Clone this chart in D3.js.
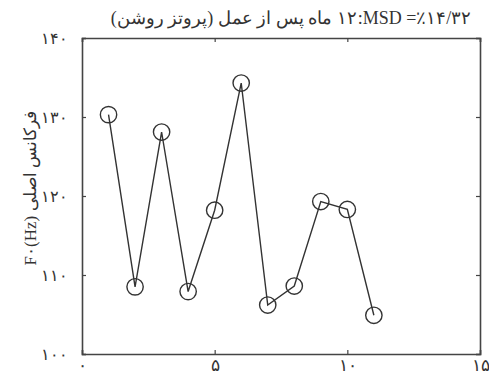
<!DOCTYPE html>
<html lang="fa">
<head>
<meta charset="utf-8">
<style>
  body { margin: 0; background: #fff; }
  text { font-family: "Liberation Serif", "DejaVu Serif", serif; fill: #333; }
</style>
</head>
<body>
<svg width="489" height="383"></svg>
<script src="https://cdn.jsdelivr.net/npm/d3@7"></script>
<script>
// values
const months = [1, 2, 3, 4, 5, 6, 7, 8, 9, 10, 11];
const f0 = [130.3, 108.5, 128.1, 107.9, 118.2, 134.3, 106.2, 108.6, 119.3, 118.3, 104.9];
const xTicks = [0, 5, 10, 15];
const yTicks = [100, 110, 120, 130, 140];
// title and y label are split in a persian part and a latin part, so the bidi order can't flip
const titleFa = '۱۲ ماه پس از عمل (پروتز روشن)';
const titleLatin = ':MSD =٪۱۴/۳۲';
const yLabelLatin = 'F۰(Hz)';
const yLabelFa = 'فرکانس اصلی';

const faDigits = '۰۱۲۳۴۵۶۷۸۹';
const fa = n => String(n).replace(/\d/g, d => faDigits[d]);

const svg = d3.select('svg');
const margin = { top: 38, right: 9, bottom: 29, left: 82 };
const width = 489 - margin.left - margin.right,
      height = 383 - margin.top - margin.bottom;

const x = d3.scaleLinear().domain([0, 15]).range([0, width]);
const y = d3.scaleLinear().domain([100, 140]).range([height, 0]);

const g = svg.append('g').attr('transform', `translate(${margin.left},${margin.top})`);

// box with inward ticks on all sides, like matlab
const tickLen = 4;
g.append('g').attr('transform', `translate(0,${height})`)
  .call(d3.axisBottom(x).tickValues(xTicks).tickSize(-tickLen).tickPadding(5).tickFormat(fa))
  .call(a => a.selectAll('text').attr('font-size', 17));
g.append('g')
  .call(d3.axisTop(x).tickValues(xTicks).tickSize(-tickLen).tickFormat(''));
g.append('g')
  .call(d3.axisLeft(y).tickValues(yTicks).tickSize(-tickLen).tickPadding(14).tickFormat(fa))
  .call(a => a.selectAll('text').attr('font-size', 16));
g.append('g').attr('transform', `translate(${width},0)`)
  .call(d3.axisRight(y).tickValues(yTicks).tickSize(-tickLen).tickFormat(''));

g.selectAll('.domain').attr('stroke', '#444').attr('stroke-width', 1.6);
g.selectAll('.tick line').attr('stroke', '#444').attr('stroke-width', 1.2);
g.selectAll('.tick text').attr('fill', '#444');

const data = months.map((m, i) => ({ m, v: f0[i] }));

g.append('path')
  .datum(data)
  .attr('fill', 'none')
  .attr('stroke', '#333')
  .attr('stroke-width', 1.4)
  .attr('d', d3.line().x(d => x(d.m)).y(d => y(d.v)));

g.selectAll('.pt')
  .data(data)
  .enter().append('path')
  .attr('class', 'pt')
  .attr('transform', d => `translate(${x(d.m)},${y(d.v)})`)
  .attr('d', d3.symbol().type(d3.symbolCircle).size(210))
  .attr('fill', 'none')
  .attr('stroke', '#333')
  .attr('stroke-width', 1.4);

// lays out [left][gap][right] left to right, centred on cx
function twoPart(parent, leftStr, leftDir, rightStr, rightDir, cx, yPos, size, gap) {
  const a = parent.append('text').attr('font-size', size).attr('direction', leftDir).text(leftStr);
  const b = parent.append('text').attr('font-size', size).attr('direction', rightDir).text(rightStr);
  const wa = a.node().getComputedTextLength(), wb = b.node().getComputedTextLength();
  const left = cx - (wa + gap + wb) / 2;
  a.attr('text-anchor', 'middle').attr('x', left + wa / 2).attr('y', yPos);
  b.attr('text-anchor', 'middle').attr('x', left + wa + gap + wb / 2).attr('y', yPos);
}

twoPart(svg, titleFa, 'rtl', titleLatin, 'ltr', 291, 24, 18, 1);

const yl = svg.append('g').attr('transform', 'translate(36,188) rotate(-90)');
twoPart(yl, yLabelLatin, 'ltr', yLabelFa, 'rtl', 0, 0, 17, 5);
</script>
</body>
</html>
